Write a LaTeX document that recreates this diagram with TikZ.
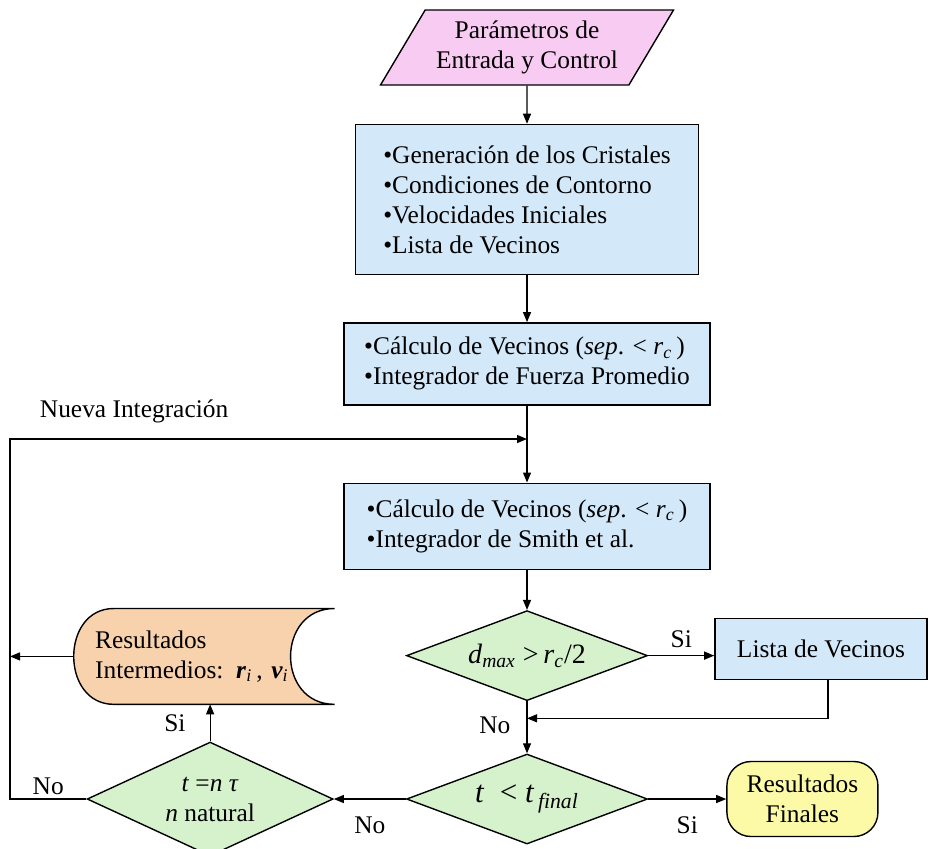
\documentclass[tikz,border=0pt]{standalone}
\usepackage{fontspec}
\setmainfont{Liberation Serif}
\usepackage{tikz}
\usetikzlibrary{
  shapes.geometric,
  arrows.meta,
  positioning,
  backgrounds
}
\definecolor{EntPink}{HTML}{F8CBF3}
\definecolor{ProcBlue}{HTML}{D3E8F8}
\definecolor{DecGreen}{HTML}{D6F2CD}
\definecolor{ResOrange}{HTML}{F8D2AC}
\definecolor{ResYellow}{HTML}{FCFAA6}
\newcommand{\decfont}{\fontsize{14pt}{17pt}\selectfont}
\newcommand{\tfinfont}{\fontsize{15.5pt}{18pt}\selectfont}
\tikzset{
  % Input parallelogram
  entr/.style={
    trapezium, trapezium left angle=52, trapezium right angle=128,
    trapezium stretches body, draw=black, fill=EntPink, line width=0.7pt,
    minimum width=146.5pt, minimum height=37.5pt, inner sep=1pt, align=center
  },
  % Process box
  proc/.style={
    rectangle, draw=black, fill=ProcBlue, line width=0.7pt,
    minimum width=#1, inner sep=2pt, align=left
  },
  proc/.default=183pt,
  % Decision diamond
  dec/.style={
    diamond, aspect=2.68, draw=black, fill=DecGreen, line width=0.7pt,
    minimum width=120.5pt, minimum height=45pt, inner sep=0pt, align=center
  },
  % Stored data (outline drawn on background)
  store/.style={
    rectangle, minimum width=130pt, minimum height=47.5pt,
    text width=109pt, inner xsep=10.5pt, align=left
  },
  % Terminal
  term/.style={
    rectangle, rounded corners=12pt, draw=black, fill=ResYellow, line width=0.7pt,
    minimum width=75.5pt, minimum height=37.5pt, align=center
  },
  % Arrow
  arr/.style={-{Triangle[length=5pt,width=4pt]}, line width=0.6pt},
  % Edge label
  lbl/.style={inner sep=1pt}
}

\begin{document}
\begin{tikzpicture}[x=0.5pt, y=-0.5pt, font=\fontsize{12.7pt}{15pt}\selectfont]
  \useasboundingbox (0,0) rectangle (929,848);

  % Main column
  \node[entr] (par) at (527,47.5) {Parámetros de\\Entrada y Control};
  \node[proc=171.5pt, below=19pt of par, minimum height=75pt] (gen)
    {•Generación de los Cristales\\•Condiciones de Contorno\\•Velocidades Iniciales\\•Lista de Vecinos};
  \node[proc, below=23.5pt of gen, minimum height=41pt] (fza)
    {•Cálculo de Vecinos (\textit{sep}. < \textit{r}\textsubscript{\textit{c}}\,)\\•Integrador de Fuerza Promedio};
  \node[proc, below=38.5pt of fza, minimum height=43pt] (smith)
    {•Cálculo de Vecinos (\textit{sep}. < \textit{r}\textsubscript{\textit{c}}\,)\\•Integrador de Smith et al.};
  \node[dec, below=20pt of smith] (dmax)
    {\decfont\textit{d}\textsubscript{\textit{max}} >\,\textit{r}\textsubscript{\textit{c}}/2};
  \node[dec, below=26pt of dmax] (tfin)
    {\tfinfont\textit{t} \ < \textit{t}\textsubscript{\,\textit{final}}};

  % Side nodes
  \node[proc=106pt, right=33pt of dmax, yshift=3.25pt, minimum height=30.5pt] (lista) {Lista de Vecinos};
  \node[term, right=39pt of tfin] (fin) {Resultados\\Finales};
  \node[dec, left=36pt of tfin, minimum width=123pt, minimum height=57pt, aspect=2.16] (ntau)
    {\textit{t} =\textit{n} \textit{τ}\\\textit{n} natural};
  \node[store, above=18.5pt of ntau, xshift=-3pt] (inter)
    {Resultados\\Intermedios: \textbf{\textit{r}}\textsubscript{\textit{i}}\,, \textbf{\textit{v}}\textsubscript{\textit{i}}};

  \begin{scope}[on background layer]
    \draw[fill=ResOrange, line width=0.7pt] (inter.north east)
      -- ([xshift=20pt]inter.north west)
      .. controls ([xshift=-6.67pt]inter.north west) and ([xshift=-6.67pt]inter.south west) .. ([xshift=20pt]inter.south west)
      -- (inter.south east)
      .. controls ([xshift=-29.3pt]inter.south east) and ([xshift=-29.3pt]inter.north east) .. (inter.north east)
      -- cycle;
  \end{scope}

  \coordinate (lft) at (10,439);
  \coordinate (merge) at (smith.north |- lft);
  \coordinate (m2) at ([yshift=-8.5pt]dmax.south);

  % Arrows
  \draw[arr] (par) -- (gen);
  \draw[arr] (gen) -- (fza);
  \draw[arr] (fza) -- (smith);
  \draw[arr] (smith) -- (dmax);
  \draw[arr] (dmax) -- node[lbl, left=7pt, pos=0.46] (no1) {No} (tfin);
  \draw[arr] (dmax.east) -- node[lbl, above=2.5pt] (si1) {Si} (dmax.east -| lista.west);
  \draw[arr] ([xshift=3.5pt]lista.south) |- (m2);
  \draw[arr] (tfin) -- node[lbl, below=7.5pt] (si2) {Si} (fin);
  \draw[arr] (tfin) -- node[lbl, below=7.5pt] (no2) {No} (ntau);
  \draw[arr] (ntau.north) -- node[lbl, left=11pt] (si3) {Si} (ntau.north |- inter.south);
  \draw[arr] (inter.west) -- (inter.west -| lft);
  \draw[arr] (ntau.west) -- node[lbl, above=1pt] (no3) {No} (ntau.west -| lft) -- (lft)
    -- node[lbl, above=6.5pt, pos=0.24] (nueva) {Nueva Integración} (merge);

\end{tikzpicture}
\end{document}
